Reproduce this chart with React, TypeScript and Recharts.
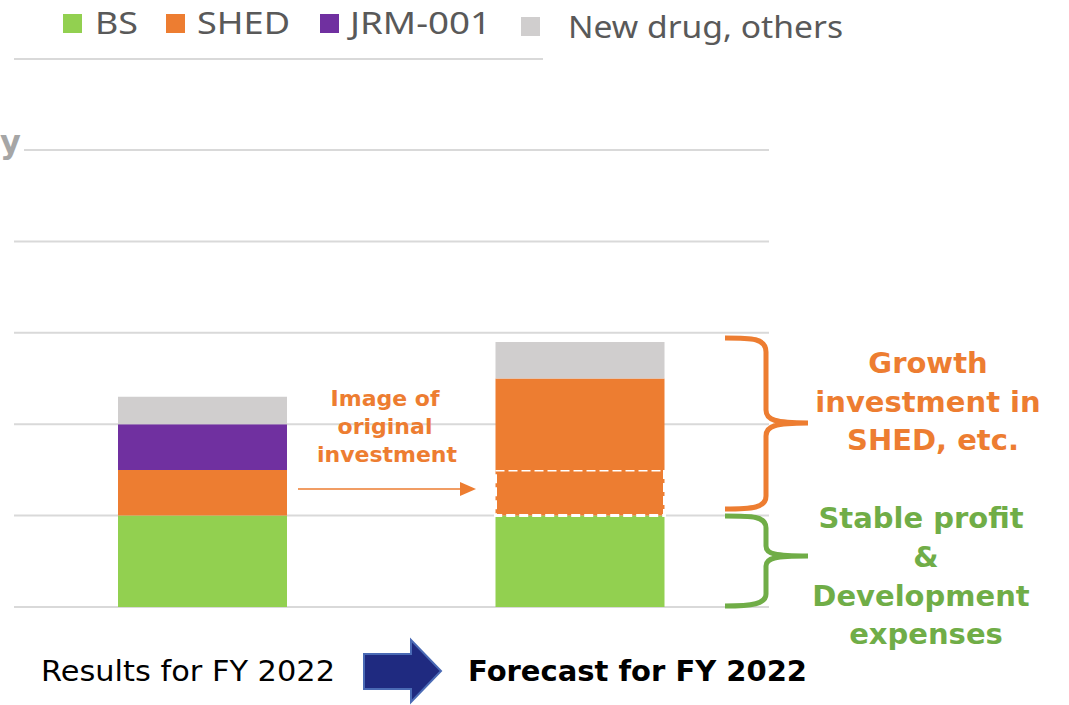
import React from "react";
import { BarChart, Bar, XAxis, YAxis, CartesianGrid } from "recharts";

const categories = ["Results for FY 2022", "Forecast for FY 2022"];
const bsValues = [1.0, 1.0];
const shedValues = [0.5, null];
const shedOriginalValues = [null, 0.5];
const jrmValues = [0.5, null];
const shedGrowthValues = [null, 1.0];
const newDrugValues = [0.3, 0.4];
const yTicks = [0, 1, 2, 3, 4, 5];

const legendItems = [
  { label: "BS", color: "#92D050", sx: 63, sy: 14, tx: 95, ty: 34, tw: 43 },
  { label: "SHED", color: "#ED7D31", sx: 166, sy: 14, tx: 197, ty: 34, tw: 93 },
  { label: "JRM-001", color: "#7030A0", sx: 320, sy: 14, tx: 350, ty: 34, tw: 141 },
  { label: "New drug, others", color: "#D0CECE", sx: 521, sy: 17, tx: 568, ty: 38, tw: 275 },
];

const data = categories.map((c, i) => ({
  name: c,
  bs: bsValues[i],
  shed: shedValues[i],
  shedOrig: shedOriginalValues[i],
  jrm: jrmValues[i],
  shedGrowth: shedGrowthValues[i],
  newDrug: newDrugValues[i],
}));

const W = 1069;
const H = 705;

export default function App() {
  return (
    <div style={{ position: "absolute", left: 0, top: 0, width: W, height: H, background: "#fff" }}>
      <BarChart
        width={W}
        height={H}
        data={data}
        margin={{ top: 150, right: 300, left: 14, bottom: 98 }}
      >
        <CartesianGrid vertical={false} stroke="#D9D9D9" strokeWidth={2} />
        <XAxis dataKey="name" hide />
        <YAxis hide domain={[0, 5]} ticks={yTicks} />
        <Bar dataKey="bs" stackId="a" fill="#92D050" barSize={169} isAnimationActive={false} />
        <Bar dataKey="shed" stackId="a" fill="#ED7D31" barSize={169} isAnimationActive={false} />
        <Bar
          dataKey="shedOrig"
          stackId="a"
          fill="#ED7D31"
          stroke="#FFFFFF"
          strokeWidth={3}
          strokeDasharray="9 4"
          barSize={169}
          isAnimationActive={false}
        />
        <Bar dataKey="jrm" stackId="a" fill="#7030A0" barSize={169} isAnimationActive={false} />
        <Bar dataKey="shedGrowth" stackId="a" fill="#ED7D31" barSize={169} isAnimationActive={false} />
        <Bar dataKey="newDrug" stackId="a" fill="#D0CECE" barSize={169} isAnimationActive={false} />
      </BarChart>
      <svg
        width={W}
        height={H}
        style={{ position: "absolute", left: 0, top: 0, pointerEvents: "none" }}
      >
        {/* legend */}
        {legendItems.map((it) => (
          <g key={it.label}>
            <rect x={it.sx} y={it.sy} width={19} height={19} fill={it.color} />
            <text
              x={it.tx}
              y={it.ty}
              fontFamily="'Noto Sans', sans-serif"
              fontSize={31}
              fill="#595959"
              textLength={it.tw}
              lengthAdjust="spacingAndGlyphs"
            >
              {it.label}
            </text>
          </g>
        ))}
        <line x1={14} y1={59} x2={543} y2={59} stroke="#D9D9D9" strokeWidth={2} />
        {/* cut-off axis title */}
        <rect x={0} y={140} width={24} height={20} fill="#fff" />
        <text x={0} y={153} fontFamily="'DejaVu Sans', sans-serif" fontWeight="bold" fontSize={32} fill="#A6A6A6">
          y
        </text>
        {/* arrow annotation */}
        <g fontFamily="'DejaVu Sans', sans-serif" fontWeight="bold" fontSize={22} fill="#ED7D31" textAnchor="middle">
          <text x={385} y={406}>Image of</text>
          <text x={385} y={434}>original</text>
          <text x={387} y={462}>investment</text>
        </g>
        <line x1={298} y1={489} x2={462} y2={489} stroke="#ED7D31" strokeWidth={1.5} />
        <polygon points="476,489 460,482 460,496" fill="#ED7D31" />
        {/* braces */}
        <path
          d="M725,338 C752,338 766,338 766,352 L766,410 C766,420 775,423 808,423 C775,423 766,426 766,436 L766,496 C766,508 752,509 725,509"
          fill="none"
          stroke="#ED7D31"
          strokeWidth={5}
        />
        <path
          d="M725,516 C752,516 766,516 766,528 L766,546 C766,554 775,556 808,556 C775,556 766,558 766,566 L766,594 C766,604 752,606 725,606"
          fill="none"
          stroke="#70AD47"
          strokeWidth={5}
        />
        <g fontFamily="'DejaVu Sans', sans-serif" fontWeight="bold" fontSize={29} fill="#ED7D31" textAnchor="middle">
          <text x={928} y={373}>Growth</text>
          <text x={928} y={412}>investment in</text>
          <text x={933} y={450}>SHED, etc.</text>
        </g>
        <g fontFamily="'DejaVu Sans', sans-serif" fontWeight="bold" fontSize={29} fill="#70AD47" textAnchor="middle">
          <text x={921} y={528}>Stable profit</text>
          <text x={926} y={567}>&amp;</text>
          <text x={921} y={606}>Development</text>
          <text x={926} y={644}>expenses</text>
        </g>
        {/* bottom labels */}
        <text
          x={41}
          y={681}
          fontFamily="'DejaVu Sans', sans-serif"
          fontSize={29}
          fill="#000"
          textLength={294}
          lengthAdjust="spacingAndGlyphs"
        >
          Results for FY 2022
        </text>
        <polygon
          points="364,654 411,654 411,640 441,671 411,702 411,689 364,689"
          fill="#1F2A80"
          stroke="#4A6AB5"
          strokeWidth={2}
        />
        <text
          x={468}
          y={681}
          fontFamily="'DejaVu Sans', sans-serif"
          fontWeight="bold"
          fontSize={29}
          fill="#000"
          textLength={339}
          lengthAdjust="spacingAndGlyphs"
        >
          Forecast for FY 2022
        </text>
      </svg>
    </div>
  );
}
